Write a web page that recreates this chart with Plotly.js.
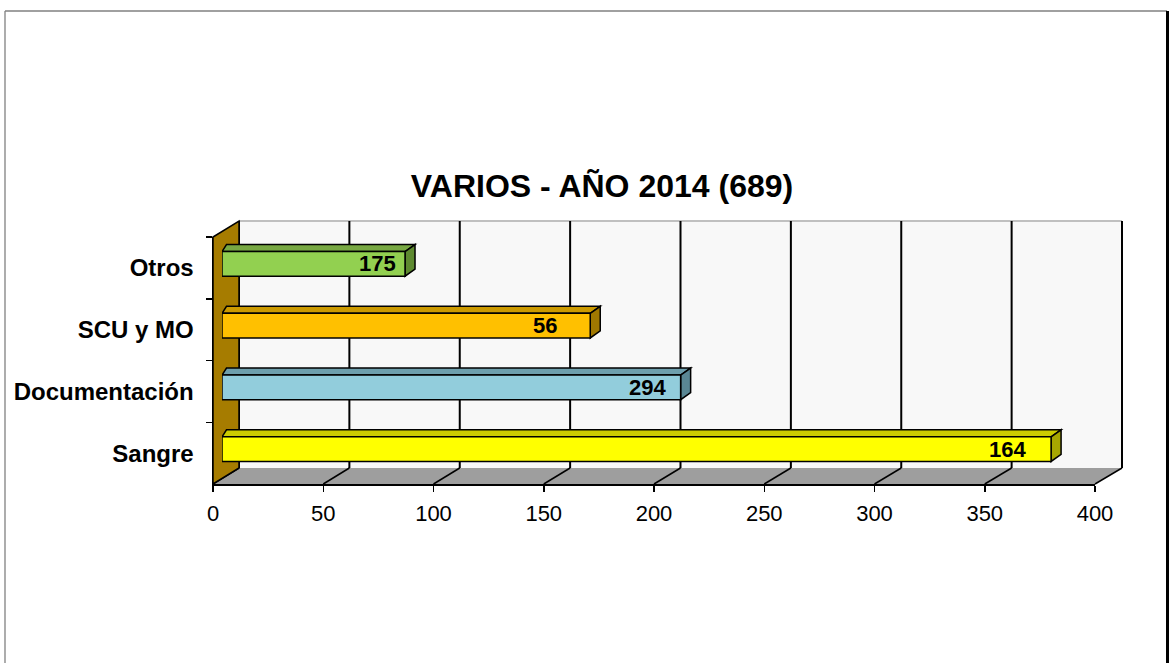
<!DOCTYPE html>
<html>
<head>
<meta charset="utf-8">
<script src="https://cdn.plot.ly/plotly-3.0.1.min.js"></script>
<style>html,body{margin:0;padding:0;background:#fff;}#chart{width:1169px;height:663px;}</style>
</head>
<body>
<div id="chart"></div>
<script>
// ---- data ----
const chartTitle = 'VARIOS - AÑO 2014 (689)';
const categories = ['Sangre', 'Documentación', 'SCU y MO', 'Otros'];   // bottom to top
const barValues = [376, 208, 167, 83];                                   // bar lengths
const barLabels = ['164', '294', '56', '175'];                           // printed data labels
const xTickVals = [0, 50, 100, 150, 200, 250, 300, 350, 400];

// ---- styles ----
const frontColors = ['#FFFF00', '#92CDDC', '#FFC000', '#92D050'];
const topColors   = ['#CCCC00', '#6E9FAD', '#CC9A00', '#78A843'];
const sideColors  = ['#A6A600', '#5A8794', '#A07800', '#5E8A30'];
const labelShift  = [-23, -13, -31, -7];   // px from bar end to label right edge

const W = 1169, H = 663;
const FX0 = 213, FX1 = 1095, FYB = 484, FYT = 237;   // front (axis) plane
const DX = 26, DY = -16;                             // wall depth
const BX0 = FX0 + DX, BX1 = FX1 + DX + 1, BYB = FYB + DY, BYT = FYT + DY;
const PX0 = 222, PX1 = 1104, PYB = 480, PYT = 233;   // bar plane
const barDxL = 4.5, barDxR = 10, barDy = 7;          // bar depth in px
const barHalf = 0.2;

const px = x => x / W;
const py = y => 1 - y / H;
const unitX = 400 / (PX1 - PX0);
const unitY = 4 / (PYB - PYT);

const shapes = [];
// back wall
shapes.push({type:'rect', xref:'paper', yref:'paper', x0:px(BX0), x1:px(BX1), y0:py(BYB), y1:py(BYT),
  fillcolor:'#F8F8F8', line:{width:0}, layer:'below'});
shapes.push({type:'line', xref:'paper', yref:'paper', x0:px(BX0), x1:px(BX1), y0:py(BYT), y1:py(BYT),
  line:{color:'#C0C0C0', width:2}, layer:'below'});
// floor
shapes.push({type:'path', xref:'paper', yref:'paper',
  path:`M ${px(FX0)},${py(FYB)} L ${px(FX1)},${py(FYB)} L ${px(BX1)},${py(BYB)} L ${px(BX0)},${py(BYB)} Z`,
  fillcolor:'#9E9E9E', line:{width:0}, layer:'below'});
// grid lines on back wall + floor diagonals
xTickVals.forEach(v => {
  const bx = BX0 + v * (BX1 - BX0) / 400;
  const fx = FX0 + v * (FX1 - FX0) / 400;
  shapes.push({type:'line', xref:'paper', yref:'paper', x0:px(bx), x1:px(bx), y0:py(BYB), y1:py(BYT),
    line:{color:'#000', width:2}, layer:'below'});
  shapes.push({type:'line', xref:'paper', yref:'paper', x0:px(bx), x1:px(fx), y0:py(BYB), y1:py(FYB),
    line:{color:'#000', width:1.5}, layer:'below'});
});
// left wall
shapes.push({type:'path', xref:'paper', yref:'paper',
  path:`M ${px(FX0)},${py(FYB)} L ${px(FX0)},${py(FYT)} L ${px(BX0)},${py(BYT)} L ${px(BX0)},${py(BYB)} Z`,
  fillcolor:'#A67C00', line:{color:'#000', width:1.5}, layer:'below'});

// bar top & side faces (data coords of the bar plane)
barValues.forEach((v, i) => {
  const yt = i + barHalf, yb = i - barHalf;
  const dl = barDxL * unitX, dr = barDxR * unitX, dy = barDy * unitY;
  shapes.push({type:'path', xref:'x2', yref:'y2', layer:'below',
    path:`M 0,${yt} L ${v},${yt} L ${v + dr},${yt + dy} L ${dl},${yt + dy} Z`,
    fillcolor: topColors[i], line:{color:'#000', width:1.5}});
  shapes.push({type:'path', xref:'x2', yref:'y2', layer:'below',
    path:`M ${v},${yb} L ${v},${yt} L ${v + dr},${yt + dy} L ${v + dr},${yb + dy} Z`,
    fillcolor: sideColors[i], line:{color:'#000', width:1.5}});
});

// chart frame
shapes.push({type:'line', xref:'paper', yref:'paper', x0:px(5), x1:px(5), y0:py(11), y1:py(H + 5),
  line:{color:'#808080', width:1.3}, layer:'above'});
shapes.push({type:'line', xref:'paper', yref:'paper', x0:px(5), x1:px(1167), y0:py(11), y1:py(11),
  line:{color:'#808080', width:1.3}, layer:'above'});
shapes.push({type:'line', xref:'paper', yref:'paper', x0:px(1167.5), x1:px(1167.5), y0:py(11), y1:py(H + 5),
  line:{color:'#000', width:3}, layer:'above'});

const annotations = barValues.map((v, i) => ({
  xref:'x2', yref:'y2', x:v, y:i, xanchor:'right', yanchor:'middle', xshift:labelShift[i], yshift:0,
  text:barLabels[i], showarrow:false,
  font:{family:'Liberation Sans, Arial, sans-serif', size:22, color:'#000', weight:'bold'}
}));

const traces = [
  { // invisible trace anchoring the front axes
    type:'scatter', x:categories.map(() => 0), y:categories, xaxis:'x', yaxis:'y',
    mode:'markers', marker:{opacity:0, size:1}, hoverinfo:'skip', showlegend:false
  },
  {
    type:'bar', orientation:'h', x:barValues, y:categories.map((c, i) => i), xaxis:'x2', yaxis:'y2',
    width:2 * barHalf, marker:{color:frontColors, line:{color:'#000', width:1.5}},
    hoverinfo:'skip', showlegend:false
  }
];

const layout = {
  width:W, height:H, autosize:false,
  margin:{l:0, r:0, t:0, b:0, pad:0},
  paper_bgcolor:'#FFFFFF', plot_bgcolor:'rgba(0,0,0,0)',
  showlegend:false,
  title:{text:chartTitle, x:602 / W, xanchor:'center', xref:'paper', yref:'container', y:py(186), yanchor:'middle',
    font:{family:'Liberation Sans, Arial, sans-serif', size:32, color:'#000', weight:'bold'}},
  xaxis:{domain:[px(FX0), px(FX1)], range:[0, 400], anchor:'y', tickmode:'array', tickvals:xTickVals,
    ticks:'outside', ticklen:6, tickwidth:1.5, tickcolor:'#000', showline:true, linecolor:'#000', linewidth:1.5,
    showgrid:false, zeroline:false, fixedrange:true, ticklabelstandoff:3,
    tickfont:{family:'Liberation Sans, Arial, sans-serif', size:22, color:'#000'}},
  yaxis:{domain:[py(FYB), py(FYT)], type:'category', categoryorder:'array', categoryarray:categories,
    range:[-0.5, 3.5], anchor:'x', tickson:'boundaries', ticks:'outside', ticklen:6, tickwidth:1.5, tickcolor:'#000',
    showline:true, linecolor:'#000', linewidth:1.5, showgrid:false, zeroline:false, fixedrange:true,
    ticklabelstandoff:13,
    tickfont:{family:'Liberation Sans, Arial, sans-serif', size:24, color:'#000', weight:'bold'}},
  xaxis2:{domain:[px(PX0), px(PX1)], range:[0, 400], anchor:'y2', visible:false, fixedrange:true},
  yaxis2:{domain:[py(PYB), py(PYT)], range:[-0.5, 3.5], anchor:'x2', visible:false, fixedrange:true},
  shapes:shapes,
  annotations:annotations
};

Plotly.newPlot('chart', traces, layout, {displayModeBar:false, staticPlot:true});
</script>
</body>
</html>
